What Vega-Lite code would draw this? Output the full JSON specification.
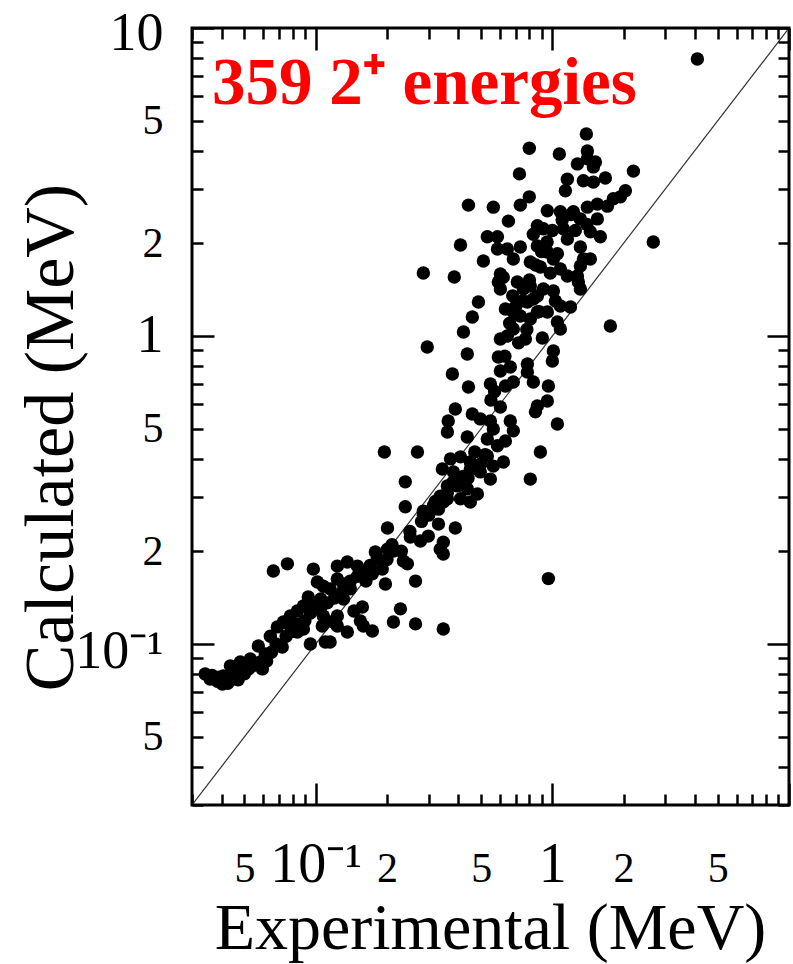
{
 "$schema": "https://vega.github.io/schema/vega-lite/v6.json",
 "width": 597, "height": 777,
 "autosize": {"type": "none"},
 "padding": {"left": 192, "top": 28, "right": 4, "bottom": 159},
 "background": "white",
 "config": {"view": {"stroke": "black", "strokeWidth": 3}, "font": "Liberation Serif"},
 "title": {"text": "359 2⁺ energies", "anchor": "start", "frame": "group", "offset": -165, "baseline": "alphabetic", "dx": 20, "color": "#ff0000", "font": "Liberation Serif", "fontWeight": "bold", "fontSize": 67},
 "datasets": {
  "diag": [{"exp": 0.03, "calc": 0.03}, {"exp": 10, "calc": 10}],
  "pts": [
{"exp":1.392,"calc":4.53},{"exp":0.799,"calc":4.07},{"exp":1.07,"calc":3.90},{"exp":1.406,"calc":3.99},{"exp":1.406,"calc":3.76},{"exp":1.52,"calc":3.67},{"exp":1.49,"calc":3.54},{"exp":1.276,"calc":3.62},{"exp":0.726,"calc":3.36},{"exp":1.157,"calc":3.23},
{"exp":1.675,"calc":3.26},{"exp":2.20,"calc":3.43},{"exp":1.135,"calc":2.96},{"exp":1.352,"calc":3.19},{"exp":1.49,"calc":3.16},{"exp":2.035,"calc":2.96},{"exp":1.94,"calc":2.83},{"exp":1.81,"calc":2.79},{"exp":0.799,"calc":2.83},{"exp":0.732,"calc":2.66},
{"exp":0.442,"calc":2.66},{"exp":0.563,"calc":2.62},{"exp":0.952,"calc":2.55},{"exp":1.081,"calc":2.53},{"exp":1.227,"calc":2.53},{"exp":1.406,"calc":2.62},{"exp":1.549,"calc":2.68},{"exp":1.708,"calc":2.64},{"exp":0.652,"calc":2.36},{"exp":0.864,"calc":2.28},
{"exp":0.916,"calc":2.23},{"exp":1.113,"calc":2.23},{"exp":1.313,"calc":2.40},{"exp":1.549,"calc":2.40},{"exp":0.531,"calc":2.10},{"exp":0.586,"calc":2.10},{"exp":0.409,"calc":1.975},{"exp":2.67,"calc":2.02},{"exp":0.831,"calc":2.14},{"exp":0.864,"calc":1.96},
{"exp":0.732,"calc":1.945},{"exp":1.157,"calc":2.065},{"exp":1.447,"calc":2.18},{"exp":1.595,"calc":2.10},{"exp":0.586,"calc":1.917},{"exp":0.645,"calc":1.917},{"exp":0.511,"calc":1.752},{"exp":0.684,"calc":1.778},{"exp":0.952,"calc":1.874},{"exp":1.01,"calc":1.778},
{"exp":1.313,"calc":1.945},{"exp":1.352,"calc":1.778},{"exp":1.447,"calc":1.778},{"exp":0.807,"calc":1.739},{"exp":0.890,"calc":1.675},{"exp":0.285,"calc":1.602},{"exp":0.385,"calc":1.555},{"exp":0.603,"calc":1.589},{"exp":0.591,"calc":1.497},{"exp":1.081,"calc":1.650},
{"exp":1.157,"calc":1.566},{"exp":1.313,"calc":1.688},{"exp":1.276,"calc":1.566},{"exp":0.711,"calc":1.497},{"exp":0.754,"calc":1.421},{"exp":0.807,"calc":1.453},{"exp":0.864,"calc":1.349},{"exp":0.916,"calc":1.421},{"exp":0.603,"calc":1.421},{"exp":1.01,"calc":1.40},
{"exp":1.288,"calc":1.497},{"exp":1.313,"calc":1.421},{"exp":0.487,"calc":1.289},{"exp":0.784,"calc":1.289},{"exp":0.831,"calc":1.318},{"exp":1.03,"calc":1.299},{"exp":0.633,"calc":1.224},{"exp":0.684,"calc":1.197},{"exp":0.732,"calc":1.161},{"exp":0.807,"calc":1.136},
{"exp":0.864,"calc":1.197},{"exp":0.952,"calc":1.197},{"exp":1.081,"calc":1.251},{"exp":1.192,"calc":1.242},{"exp":0.459,"calc":1.153},{"exp":1.05,"calc":1.11},{"exp":1.081,"calc":1.054},{"exp":0.421,"calc":1.03},{"exp":0.684,"calc":1.054},{"exp":0.645,"calc":1.0},
{"exp":0.603,"calc":0.978},{"exp":0.769,"calc":0.978},{"exp":0.907,"calc":0.985},{"exp":1.758,"calc":1.078},{"exp":0.296,"calc":0.921},{"exp":0.437,"calc":0.874},{"exp":0.591,"calc":0.855},{"exp":1.01,"calc":0.894},{"exp":1.0,"calc":0.829},{"exp":0.664,"calc":0.793},
{"exp":0.603,"calc":0.770},{"exp":0.784,"calc":0.811},{"exp":0.784,"calc":0.764},{"exp":0.378,"calc":0.753},{"exp":0.684,"calc":0.709},{"exp":0.633,"calc":0.688},{"exp":0.547,"calc":0.699},{"exp":0.831,"calc":0.709},{"exp":0.962,"calc":0.688},{"exp":0.442,"calc":0.683},
{"exp":0.952,"calc":0.615},{"exp":0.864,"calc":0.593},{"exp":0.848,"calc":0.567},{"exp":0.603,"calc":0.588},{"exp":0.389,"calc":0.579},{"exp":0.363,"calc":0.530},{"exp":0.360,"calc":0.488},{"exp":0.459,"calc":0.558},{"exp":0.496,"calc":0.538},{"exp":0.547,"calc":0.530},
{"exp":0.563,"calc":0.499},{"exp":0.664,"calc":0.530},{"exp":0.684,"calc":0.492},{"exp":1.05,"calc":0.518},{"exp":0.437,"calc":0.470},{"exp":0.531,"calc":0.463},{"exp":0.586,"calc":0.440},{"exp":0.633,"calc":0.456},{"exp":0.195,"calc":0.420},{"exp":0.269,"calc":0.420},
{"exp":0.890,"calc":0.420},{"exp":0.371,"calc":0.399},{"exp":0.409,"calc":0.405},{"exp":0.450,"calc":0.390},{"exp":0.531,"calc":0.408},{"exp":0.563,"calc":0.378},{"exp":0.621,"calc":0.390},{"exp":0.343,"calc":0.370},{"exp":0.382,"calc":0.362},{"exp":0.496,"calc":0.362},
{"exp":0.547,"calc":0.343},{"exp":0.239,"calc":0.336},{"exp":0.807,"calc":0.343},{"exp":0.360,"calc":0.326},{"exp":0.397,"calc":0.326},{"exp":0.437,"calc":0.319},{"exp":0.482,"calc":0.307},{"exp":0.336,"calc":0.302},{"exp":0.360,"calc":0.296},{"exp":0.409,"calc":0.296},
{"exp":0.450,"calc":0.289},{"exp":0.239,"calc":0.279},{"exp":0.285,"calc":0.270},{"exp":0.314,"calc":0.281},{"exp":0.330,"calc":0.274},{"exp":0.285,"calc":0.262},{"exp":0.346,"calc":0.289},{"exp":0.201,"calc":0.238},{"exp":0.330,"calc":0.245},{"exp":0.389,"calc":0.238},
{"exp":0.251,"calc":0.2225},{"exp":0.277,"calc":0.216},{"exp":0.299,"calc":0.224},{"exp":0.346,"calc":0.214},{"exp":0.336,"calc":0.203},{"exp":0.346,"calc":0.196},{"exp":0.1786,"calc":0.199},{"exp":0.201,"calc":0.203},{"exp":0.213,"calc":0.2004},{"exp":0.2346,"calc":0.186},
{"exp":0.244,"calc":0.182},{"exp":0.264,"calc":0.160},{"exp":0.0662,"calc":0.1726},{"exp":0.0759,"calc":0.182},{"exp":0.0977,"calc":0.175},{"exp":0.1234,"calc":0.179},{"exp":0.136,"calc":0.1846},{"exp":0.150,"calc":0.179},{"exp":0.159,"calc":0.171},{"exp":0.1735,"calc":0.169},
{"exp":0.191,"calc":0.175},{"exp":0.197,"calc":0.1566},{"exp":0.1016,"calc":0.159},{"exp":0.1077,"calc":0.154},{"exp":0.115,"calc":0.151},{"exp":0.1234,"calc":0.1626},{"exp":0.131,"calc":0.1566},{"exp":0.140,"calc":0.151},{"exp":0.1234,"calc":0.143},{"exp":0.131,"calc":0.140},
{"exp":0.093,"calc":0.142},{"exp":0.0887,"calc":0.1328},{"exp":0.0836,"calc":0.128},{"exp":0.0781,"calc":0.1233},{"exp":0.0977,"calc":0.1328},{"exp":0.1046,"calc":0.130},{"exp":0.1574,"calc":0.1318},{"exp":0.228,"calc":0.130},{"exp":0.0730,"calc":0.1179},{"exp":0.0688,"calc":0.1136},
{"exp":0.0643,"calc":0.106},{"exp":0.0781,"calc":0.1144},{"exp":0.0836,"calc":0.1094},{"exp":0.0887,"calc":0.1119},{"exp":0.1066,"calc":0.1144},{"exp":0.1077,"calc":0.1233},{"exp":0.1234,"calc":0.1233},{"exp":0.1234,"calc":0.1144},{"exp":0.1544,"calc":0.1188},{"exp":0.159,"calc":0.1144},
{"exp":0.1735,"calc":0.1102},{"exp":0.213,"calc":0.1179},{"exp":0.264,"calc":0.1162},{"exp":0.346,"calc":0.1119},{"exp":0.136,"calc":0.1094},{"exp":0.1098,"calc":0.1015},{"exp":0.115,"calc":0.1015},{"exp":0.0949,"calc":0.1},{"exp":0.0722,"calc":0.0978},{"exp":0.0572,"calc":0.0985},
{"exp":0.0612,"calc":0.0928},{"exp":0.0583,"calc":0.0874},{"exp":0.0595,"calc":0.083},{"exp":0.0529,"calc":0.0894},{"exp":0.054,"calc":0.0849},{"exp":0.048,"calc":0.0874},{"exp":0.0494,"calc":0.0817},{"exp":0.0436,"calc":0.0849},{"exp":0.0444,"calc":0.0811},{"exp":0.0449,"calc":0.077},
{"exp":0.0407,"calc":0.0787},{"exp":0.0423,"calc":0.0752},{"exp":0.0384,"calc":0.0757},{"exp":0.0403,"calc":0.0741},{"exp":0.0341,"calc":0.0799},{"exp":0.0358,"calc":0.077},{"exp":4.10,"calc":7.93},{"exp":0.962,"calc":0.163},
{"exp":0.045,"calc":0.079},{"exp":0.047,"calc":0.0765},{"exp":0.05,"calc":0.08},{"exp":0.052,"calc":0.083},{"exp":0.056,"calc":0.086},{"exp":0.043,"calc":0.0775},{"exp":0.039,"calc":0.078},{"exp":0.0365,"calc":0.079},{"exp":0.0425,"calc":0.0745},{"exp":0.062,"calc":0.088},
{"exp":0.065,"calc":0.094},{"exp":0.068,"calc":0.1},{"exp":0.075,"calc":0.106},{"exp":0.08,"calc":0.11},{"exp":0.085,"calc":0.116},{"exp":0.09,"calc":0.119},{"exp":0.095,"calc":0.126},{"exp":0.1,"calc":0.13},{"exp":0.105,"calc":0.14},{"exp":0.112,"calc":0.136},
{"exp":0.12,"calc":0.141},{"exp":0.13,"calc":0.148},{"exp":0.14,"calc":0.16},{"exp":0.15,"calc":0.166},{"exp":0.163,"calc":0.16},{"exp":0.17,"calc":0.18},{"exp":0.182,"calc":0.19},{"exp":0.118,"calc":0.118},{"exp":0.145,"calc":0.128},{"exp":0.2,"calc":0.188},
{"exp":0.21,"calc":0.21},{"exp":0.23,"calc":0.2},{"exp":0.25,"calc":0.232},{"exp":0.28,"calc":0.25},{"exp":0.3,"calc":0.262},{"exp":0.32,"calc":0.29},{"exp":0.36,"calc":0.31},{"exp":0.38,"calc":0.335},{"exp":0.42,"calc":0.35},{"exp":0.45,"calc":0.37},
{"exp":0.5,"calc":0.385},{"exp":0.52,"calc":0.412},{"exp":0.47,"calc":0.42},{"exp":0.41,"calc":0.33},{"exp":0.44,"calc":0.345},{"exp":0.75,"calc":1.3},{"exp":0.8,"calc":1.52},{"exp":0.85,"calc":1.7},{"exp":0.9,"calc":1.88},{"exp":0.95,"calc":2.02},
{"exp":1.0,"calc":2.2},{"exp":1.1,"calc":2.38},{"exp":1.2,"calc":2.48},{"exp":0.7,"calc":1.25},{"exp":0.66,"calc":1.1},{"exp":0.72,"calc":0.95},{"exp":0.78,"calc":1.05},{"exp":0.88,"calc":1.2},{"exp":0.98,"calc":1.6},{"exp":1.05,"calc":1.85},
{"exp":0.63,"calc":0.86},{"exp":0.55,"calc":0.62},{"exp":0.57,"calc":0.66},{"exp":1.25,"calc":2.2},{"exp":1.4,"calc":2.3},{"exp":0.62,"calc":1.55},{"exp":0.68,"calc":1.35}
  ]
 },
 "layer": [
  {
   "data": {"name": "diag"},
   "mark": {"type": "line", "color": "#333333", "strokeWidth": 1.2, "clip": true},
   "encoding": {
    "x": {"field": "exp", "type": "quantitative", "scale": {"type": "log", "domain": [0.03, 10], "nice": false},
     "axis": {"orient": "bottom", "values": [0.03,0.04,0.05,0.06,0.07,0.08,0.09,0.1,0.2,0.3,0.4,0.5,0.6,0.7,0.8,0.9,1,2,3,4,5,6,7,8,9,10], "labels": false, "domain": false, "grid": false, "title": null, "tickColor": "black", "tickWidth": 2.5, "tickSize": {"condition": {"test": "datum.value == 0.1 || datum.value == 1 || datum.value == 10", "value": -22}, "value": -11}, "zindex": 1}},
    "y": {"field": "calc", "type": "quantitative", "scale": {"type": "log", "domain": [0.03, 10], "nice": false},
     "axis": {"orient": "left", "values": [0.03,0.04,0.05,0.06,0.07,0.08,0.09,0.1,0.2,0.3,0.4,0.5,0.6,0.7,0.8,0.9,1,2,3,4,5,6,7,8,9,10], "labels": false, "domain": false, "grid": false, "title": null, "tickColor": "black", "tickWidth": 2.5, "tickSize": {"condition": {"test": "datum.value == 0.1 || datum.value == 1 || datum.value == 10", "value": -22}, "value": -11}, "zindex": 1}}
   }
  },
  {
   "data": {"name": "pts"},
   "mark": {"type": "circle", "size": 180, "color": "black", "opacity": 1},
   "encoding": {
    "x": {"field": "exp", "type": "quantitative",
     "axis": {"orient": "bottom", "values": [0.05,0.1,0.2,0.5,1,2,5], "ticks": false, "domain": false, "grid": false,
      "labelExpr": "datum.value == 0.1 ? '10⁻¹' : datum.value == 1 ? '1' : datum.value == 10 ? '10' : (datum.value == 0.05 || datum.value == 0.5 || datum.value == 5) ? '5' : '2'",
      "labelFont": "Liberation Serif", "labelColor": "black", "labelBaseline": "alphabetic", "labelPadding": 76, "labelFlush": false,
      "labelFontSize": {"condition": {"test": "datum.value == 0.1 || datum.value == 1", "value": 56}, "value": 42},
      "title": "Experimental (MeV)", "titleFont": "Liberation Serif", "titleFontWeight": "normal", "titleFontSize": 66, "titleColor": "black",
      "titleX": 298, "titleY": 143, "titleAlign": "center", "titleBaseline": "alphabetic"}},
    "y": {"field": "calc", "type": "quantitative",
     "axis": {"orient": "left", "values": [0.05,0.1,0.2,0.5,1,2,5,10], "ticks": false, "domain": false, "grid": false,
      "labelExpr": "datum.value == 0.1 ? '10⁻¹' : datum.value == 1 ? '1' : datum.value == 10 ? '10' : (datum.value == 0.05 || datum.value == 0.5 || datum.value == 5) ? '5' : '2'",
      "labelFont": "Liberation Serif", "labelColor": "black", "labelPadding": 29, "labelFlush": false, "labelBaseline": "middle",
      "labelOffset": {"condition": [{"test": "datum.value == 0.1", "value": 8}, {"test": "datum.value == 10", "value": 5}], "value": 0},
      "labelFontSize": {"condition": {"test": "datum.value == 0.1 || datum.value == 1 || datum.value == 10", "value": 54}, "value": 42},
      "title": "Calculated (MeV)", "titleFont": "Liberation Serif", "titleFontWeight": "normal", "titleFontSize": 70, "titleColor": "black",
      "titleX": -141, "titleY": 409, "titleAngle": 270, "titleAlign": "center", "titleBaseline": "middle"}}
   }
  },
  {
   "data": {"name": "diag"},
   "mark": {"type": "line", "opacity": 0},
   "encoding": {
    "x": {"field": "exp", "type": "quantitative",
     "axis": {"orient": "top", "values": [0.03,0.04,0.05,0.06,0.07,0.08,0.09,0.1,0.2,0.3,0.4,0.5,0.6,0.7,0.8,0.9,1,2,3,4,5,6,7,8,9,10], "labels": false, "domain": false, "grid": false, "title": null, "tickColor": "black", "tickWidth": 2.5, "tickSize": {"condition": {"test": "datum.value == 0.1 || datum.value == 1 || datum.value == 10", "value": -22}, "value": -11}, "zindex": 1}},
    "y": {"field": "calc", "type": "quantitative",
     "axis": {"orient": "right", "values": [0.03,0.04,0.05,0.06,0.07,0.08,0.09,0.1,0.2,0.3,0.4,0.5,0.6,0.7,0.8,0.9,1,2,3,4,5,6,7,8,9,10], "labels": false, "domain": false, "grid": false, "title": null, "tickColor": "black", "tickWidth": 2.5, "tickSize": {"condition": {"test": "datum.value == 0.1 || datum.value == 1 || datum.value == 10", "value": -22}, "value": -11}, "zindex": 1}}
   }
  }
 ],
 "resolve": {"axis": {"x": "independent", "y": "independent"}}
}
